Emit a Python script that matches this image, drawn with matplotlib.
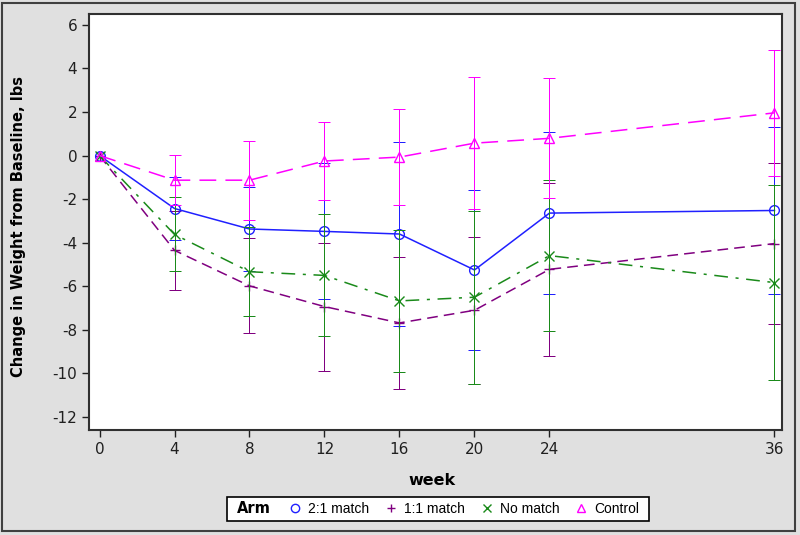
import matplotlib
matplotlib.use('Agg')
from matplotlib import pyplot as plt
from matplotlib import patches as pat
from matplotlib.lines import Line2D
from matplotlib.offsetbox import HPacker, DrawingArea
import numpy as np

plt.rcParams['axes.unicode_minus'] = False

weeks = [0, 4, 8, 12, 16, 20, 24, 36]

# mean change and half-width of error bar per arm
m21 = [0, -2.43, -3.37, -3.48, -3.60, -5.25, -2.64, -2.52]
e21 = [0, 1.45, 1.95, 3.12, 4.20, 3.65, 3.72, 3.82]
m11 = [0, -4.35, -5.98, -6.93, -7.68, -7.10, -5.22, -4.04]
e11 = [0, 1.80, 2.18, 2.94, 3.03, 3.38, 3.98, 3.70]
mno = [0, -3.62, -5.33, -5.50, -6.67, -6.50, -4.59, -5.83]
eno = [0, 1.70, 2.05, 2.80, 3.25, 3.97, 3.46, 4.46]
mct = [0, -1.13, -1.13, -0.25, -0.07, 0.57, 0.79, 1.96]
ect = [0, 1.16, 1.82, 1.78, 2.21, 3.03, 2.76, 2.90]

arms = ['2:1 match', '1:1 match', 'No match', 'Control']
xticks = [0, 4, 8, 12, 16, 20, 24, 36]
yticks = [-12, -10, -8, -6, -4, -2, 0, 2, 4, 6]

bg = '#e0e0e0'
fig = plt.figure(figsize=(8, 5.35), dpi=100, facecolor=bg)
ax = fig.add_axes([89 / 800, 0.196, 693 / 800, 0.778])

series = [
    (m11, e11, '#800080', '+', (0, (7, 4)), 1),
    (m21, e21, '#2020ff', 'o', '-', 2),
    (mno, eno, '#1a8a1a', 'x', (0, (9, 5, 2, 5)), 3),
    (mct, ect, '#ff00ff', '^', (0, (11, 6)), 4),
]
for m, e, c, mk, ls, z in series:
    # week 0 is the baseline, no spread there
    eb = ax.errorbar(weeks[1:], m[1:], yerr=e[1:], fmt='none', ecolor=c, elinewidth=0.72,
                     capsize=4.5, capthick=0.72, zorder=z)
    for cl in eb[1]:
        cl.set_antialiased(False)
    for bl in eb[2]:
        bl.set_antialiased(False)
    ax.plot(weeks, m, color=c, linestyle=ls, linewidth=1.1, marker=mk, markersize=7,
            markerfacecolor='none', markeredgecolor=c, markeredgewidth=1, zorder=z + 0.5)

# 18.75 px per week so the bars sit on pixel centres
ax.set_xlim(-0.56, 36.4)
ax.set_ylim(-12.6, 6.5)
ax.set_xticks(xticks)
ax.set_yticks(yticks)
ax.tick_params(labelsize=11, length=5, width=1, direction='out', colors='#202020')
for s in ax.spines.values():
    s.set_linewidth(1.5)
    s.set_color('#303030')
ax.set_xlabel('week', fontsize=11.5, fontweight='bold', family='DejaVu Sans')
ax.xaxis.set_label_coords(0.4955, -0.104)
ax.set_ylabel('Change in Weight from Baseline, lbs', fontsize=10.5, fontweight='bold', family='DejaVu Sans')
ax.yaxis.set_label_coords(-0.0905, 0.49)

cols = ['#2020ff', '#800080', '#1a8a1a', '#ff00ff']
mks = ['o', '+', 'x', '^']
handles = [Line2D([], [], linestyle='none', marker=mk, color=c, markerfacecolor='none', markersize=6)
           for mk, c in zip(mks, cols)]
leg = fig.legend(handles, arms, title='Arm', loc='center', bbox_to_anchor=(0.5475, 0.0486), ncol=4,
                 frameon=True, fancybox=False, edgecolor='black', facecolor='white', framealpha=1,
                 prop={'family': 'Liberation Sans', 'size': 10}, handlelength=0.9, handletextpad=0.5,
                 columnspacing=1.1, borderpad=0.3)
leg.get_title().set_fontweight('bold')
leg.get_title().set_fontsize(10.5)
leg.get_frame().set_linewidth(1.2)
fs = leg._fontsize
# put the "Arm" title on the same row as the entries
leg._legend_box = HPacker(pad=leg.borderpad * fs, sep=0, align='center',
                          children=[DrawingArea(4, 1), leg._legend_title_box, DrawingArea(13, 1),
                                    leg._legend_handle_box, DrawingArea(4, 1)])
leg._legend_box.set_figure(fig)
leg._set_loc(leg._loc)

fig.patches.append(pat.Rectangle((0.002, 0.007), 0.992, 0.987, transform=fig.transFigure,
                                 fill=False, edgecolor='#404040', linewidth=1.5))

plt.savefig('out.png', dpi=100, facecolor=bg)
